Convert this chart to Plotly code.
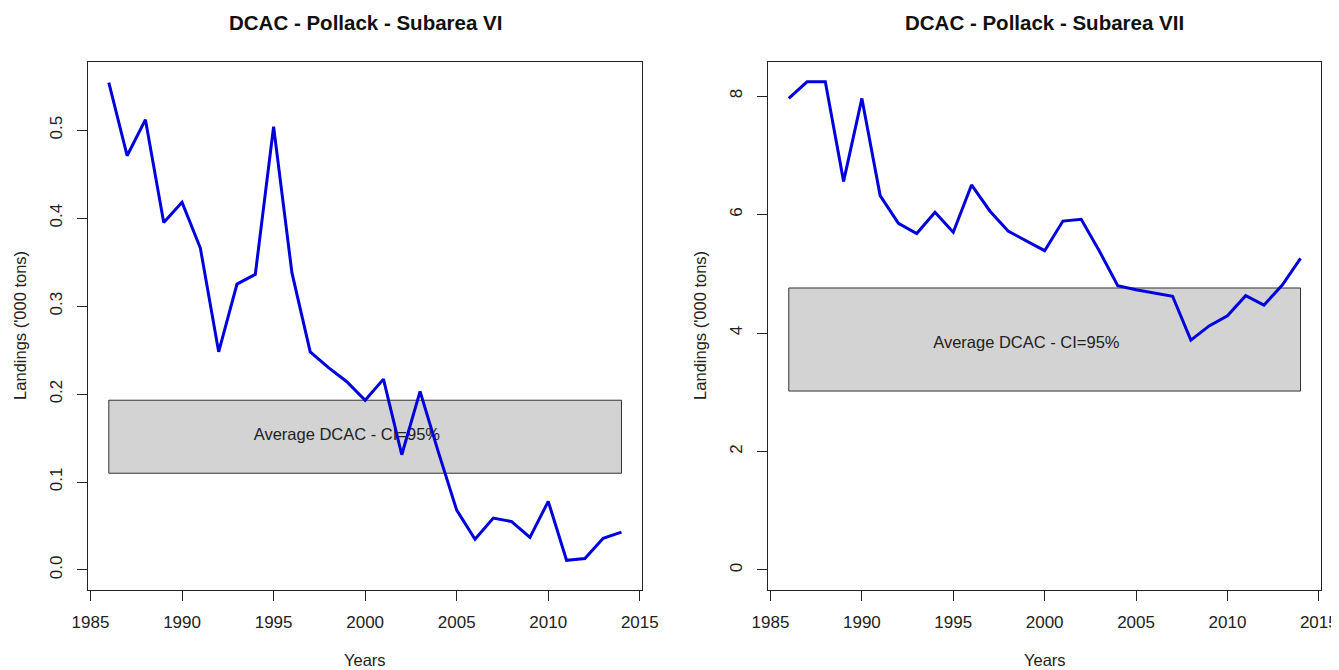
import plotly.graph_objects as go

years = list(range(1986, 2015))

landings_vi = [0.554, 0.471, 0.512, 0.395, 0.418, 0.366, 0.248, 0.325, 0.336, 0.504,
               0.338, 0.248, 0.230, 0.214, 0.193, 0.217, 0.131, 0.203, 0.134, 0.068,
               0.035, 0.059, 0.055, 0.037, 0.078, 0.011, 0.013, 0.036, 0.043]

landings_vii = [7.96, 8.24, 8.24, 6.56, 7.96, 6.32, 5.85, 5.68, 6.04, 5.70,
                6.50, 6.06, 5.72, 5.56, 5.39, 5.89, 5.92, 5.38, 4.80, 4.73,
                4.67, 4.62, 3.88, 4.12, 4.29, 4.63, 4.47, 4.81, 5.26]

dcac_vi = [0.110, 0.193]   # CI low, high
dcac_vii = [3.02, 4.76]
label_pos_vi = [1999, 0.152]
label_pos_vii = [1999, 3.82]

titles = ["DCAC - Pollack - Subarea VI", "DCAC - Pollack - Subarea VII"]
label_text = "Average DCAC - CI=95%"
x_ticks = [1985, 1990, 1995, 2000, 2005, 2010, 2015]
y_ticks_vi = [0.0, 0.1, 0.2, 0.3, 0.4, 0.5]
y_ticks_vii = [0, 2, 4, 6, 8]

FONT = "Liberation Sans, Arial, sans-serif"
OFF = 8  # page body margin
W, H = 1339 - OFF, 670 - OFF


def px(x):
    return (x - OFF) / W


def py(y):
    return 1 - (y - OFF) / H


fig = go.Figure()

panels = [
    dict(x="x", y="y", vals=landings_vi, ci=dcac_vi, lab=label_pos_vi,
         xd=[px(88.3), px(642)], yr=[-0.0222, 0.5772], yt=y_ticks_vi, fmt=".1f",
         title=titles[0], ytitle_x=20, xc=365),
    dict(x="x2", y="y2", vals=landings_vii, ci=dcac_vii, lab=label_pos_vii,
         xd=[px(768.3), px(1321)], yr=[-0.33, 8.57], yt=y_ticks_vii, fmt="d",
         title=titles[1], ytitle_x=700, xc=1044.5),
]

ydom = [py(589.5), py(62.3)]
shapes = []
annotations = []
for i, p in enumerate(panels):
    shapes.append(dict(type="rect", xref=p["x"], yref=p["y"], layer="below",
                       x0=years[0], x1=years[-1], y0=p["ci"][0], y1=p["ci"][1],
                       fillcolor="#d3d3d3", line=dict(color="#333333", width=1)))
    fig.add_trace(go.Scatter(x=[p["lab"][0]], y=[p["lab"][1]], mode="text",
                             text=[label_text], textposition="middle center",
                             textfont=dict(family=FONT, size=16.5, color="#222222"),
                             xaxis=p["x"], yaxis=p["y"], showlegend=False, hoverinfo="skip"))
    fig.add_trace(go.Scatter(x=years, y=p["vals"], mode="lines",
                             line=dict(color="#0000dd", width=3),
                             xaxis=p["x"], yaxis=p["y"], showlegend=False))
    annotations.append(dict(text="<b>" + p["title"] + "</b>", x=px(p["xc"]), y=py(22),
                            xref="paper", yref="paper", showarrow=False,
                            font=dict(family=FONT, size=20.5, color="#111111"),
                            xanchor="center", yanchor="middle"))
    annotations.append(dict(text="Years", x=px(p["xc"]), y=py(660), xref="paper", yref="paper",
                            showarrow=False, font=dict(family=FONT, size=16.5, color="#222222"),
                            xanchor="center", yanchor="middle"))
    annotations.append(dict(text="Landings ('000 tons)", x=px(p["ytitle_x"]),
                            y=(ydom[0] + ydom[1]) / 2, xref="paper", yref="paper",
                            showarrow=False, textangle=-90,
                            font=dict(family=FONT, size=16.5, color="#222222"),
                            xanchor="center", yanchor="middle"))

    axname = "xaxis" if i == 0 else "xaxis2"
    ayname = "yaxis" if i == 0 else "yaxis2"
    fig.layout[axname] = dict(domain=p["xd"], range=[1984.88, 2015.12], tickvals=x_ticks,
                              ticks="outside", ticklen=10, tickcolor="#222222",
                              ticklabelstandoff=7, automargin=False, ticklabeloverflow="allow",
                              showline=True, linecolor="#222222", linewidth=1, mirror=True,
                              showgrid=False, zeroline=False, anchor=p["y"],
                              tickfont=dict(family=FONT, size=17, color="#222222"))
    fig.layout[ayname] = dict(domain=ydom, range=p["yr"], tickvals=p["yt"], tickformat=p["fmt"],
                              ticks="outside", ticklen=10, tickcolor="#222222", tickangle=-90,
                              ticklabelstandoff=9, automargin=False, ticklabeloverflow="allow",
                              showline=True, linecolor="#222222", linewidth=1, mirror=True,
                              showgrid=False, zeroline=False, anchor=p["x"],
                              tickfont=dict(family=FONT, size=17, color="#222222"))

fig.update_layout(width=W, height=H, margin=dict(l=0, r=0, t=0, b=0),
                  paper_bgcolor="white", plot_bgcolor="white",
                  shapes=shapes, annotations=annotations, showlegend=False)

fig.write_html("out.html")
